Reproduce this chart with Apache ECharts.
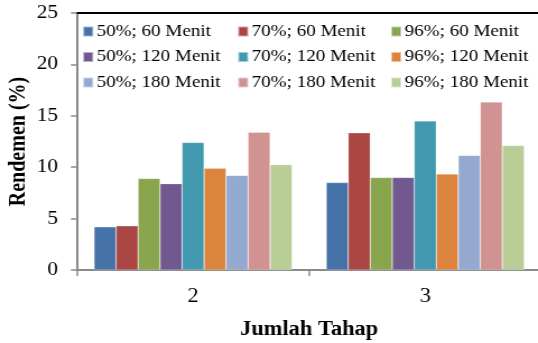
<!DOCTYPE html>
<html>
<head>
<meta charset="utf-8">
<script src="https://cdn.jsdelivr.net/npm/echarts@6/dist/echarts.min.js"></script>
<style>
  html, body { margin: 0; padding: 0; background: #fff; overflow: hidden; }
  /* The chart is laid out on a narrower canvas and widened to the page,
     which gives the wide Times-style lettering of the printed figure. */
  #chart { width: 480px; height: 343px; transform: scaleX(1.1208); transform-origin: 0 0; }
</style>
</head>
<body>
<div id="chart"></div>
<script>
// Number of extraction stages
const categories = ['2', '3'];

// Yield (%) per ethanol concentration and extraction time
const s50_60  = [4.2, 8.5];
const s70_60  = [4.3, 13.35];
const s96_60  = [8.9, 9.0];
const s50_120 = [8.4, 9.0];
const s70_120 = [12.4, 14.5];
const s96_120 = [9.9, 9.35];
const s50_180 = [9.2, 11.15];
const s70_180 = [13.4, 16.35];
const s96_180 = [10.25, 12.1];

const seriesNames = [
  '50%; 60 Menit', '70%; 60 Menit', '96%; 60 Menit',
  '50%; 120 Menit', '70%; 120 Menit', '96%; 120 Menit',
  '50%; 180 Menit', '70%; 180 Menit', '96%; 180 Menit'
];
const seriesValues = [s50_60, s70_60, s96_60, s50_120, s70_120, s96_120, s50_180, s70_180, s96_180];
const colors = ['#4572A7', '#AA4643', '#89A54E', '#71588F', '#4198AF', '#DB843D', '#93A9CF', '#D19392', '#B9CD96'];

const yTicks = [0, 5, 10, 15, 20, 25];

const font = '"Liberation Serif", "Times New Roman", serif';

const chart = echarts.init(document.getElementById('chart'), null, { renderer: 'canvas' });

function legendColumn(left, names) {
  return {
    orient: 'vertical',
    left: left,
    top: 23,
    itemWidth: 9,
    itemHeight: 10,
    itemGap: 8.5,
    icon: 'rect',
    padding: 0,
    data: names,
    textStyle: { fontFamily: font, fontSize: 17, color: '#000', lineHeight: 16, padding: [0, 0, 0, -2] }
  };
}

chart.setOption({
  animation: false,
  color: colors,
  grid: { left: 68.7, right: -3, top: 13, bottom: 73, containLabel: false, outerBoundsMode: 'none' },
  legend: [
    legendColumn(73.2, [seriesNames[0], seriesNames[3], seriesNames[6]]),
    legendColumn(211.5, [seriesNames[1], seriesNames[4], seriesNames[7]]),
    legendColumn(348, [seriesNames[2], seriesNames[5], seriesNames[8]])
  ],
  xAxis: [
    {
      type: 'category',
      data: categories,
      position: 'bottom',
      name: 'Jumlah Tahap',
      nameLocation: 'middle',
      nameGap: 50,
      nameMoveOverlap: false,
      nameTextStyle: { fontFamily: font, fontSize: 20, fontWeight: 'bold', color: '#000' },
      axisLine: { lineStyle: { color: '#8a8a8a', width: 2 } },
      axisTick: { show: true, length: 6, lineStyle: { color: '#8a8a8a', width: 1.5 } },
      axisLabel: { fontFamily: font, fontSize: 20, color: '#000', margin: 17 }
    },
    {
      type: 'category',
      data: categories,
      position: 'top',
      axisLine: { show: true, lineStyle: { color: '#000', width: 2 } },
      axisTick: { show: false },
      axisLabel: { show: false }
    }
  ],
  yAxis: {
    type: 'value',
    min: yTicks[0],
    max: yTicks[yTicks.length - 1],
    interval: 5,
    name: 'Rendemen (%)',
    nameLocation: 'middle',
    nameGap: 42,
    nameMoveOverlap: false,
    nameTextStyle: { fontFamily: font, fontSize: 20, fontWeight: 'bold', color: '#000' },
    axisLine: { show: true, lineStyle: { color: '#8a8a8a', width: 2 } },
    axisTick: { show: true, length: 5.4, lineStyle: { color: '#8a8a8a', width: 1.5 } },
    axisLabel: { fontFamily: font, fontSize: 19, color: '#000', margin: 17 },
    splitLine: { show: false }
  },
  series: seriesNames.map((name, i) => ({
    name: name,
    type: 'bar',
    data: seriesValues[i],
    barGap: '0%',
    barCategoryGap: '14.7%',
    itemStyle: { color: colors[i], borderColor: 'rgba(255,255,255,0.5)', borderWidth: 0.5 }
  }))
});
</script>
</body>
</html>
